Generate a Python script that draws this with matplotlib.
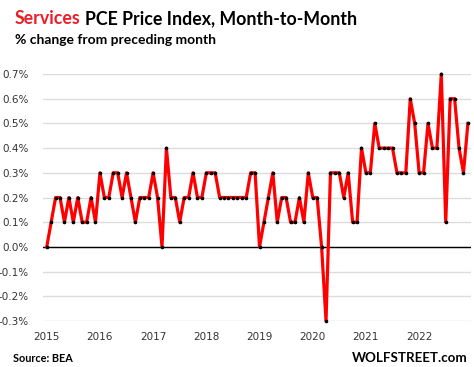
import matplotlib
matplotlib.use("Agg")
import matplotlib.pyplot as plt
import numpy as np

# Monthly services PCE price index, % change from preceding month (Jan 2015 - Dec 2022)
years = ["2015", "2016", "2017", "2018", "2019", "2020", "2021", "2022"]
pce_2015 = [0.0, 0.1, 0.2, 0.2, 0.1, 0.2, 0.1, 0.2, 0.1, 0.1, 0.2, 0.1]
pce_2016 = [0.3, 0.2, 0.2, 0.3, 0.3, 0.2, 0.3, 0.2, 0.1, 0.2, 0.2, 0.2]
pce_2017 = [0.3, 0.2, 0.0, 0.4, 0.2, 0.2, 0.1, 0.2, 0.2, 0.3, 0.2, 0.2]
pce_2018 = [0.3, 0.3, 0.3, 0.2, 0.2, 0.2, 0.2, 0.2, 0.2, 0.2, 0.3, 0.3]
pce_2019 = [0.0, 0.1, 0.2, 0.3, 0.1, 0.2, 0.2, 0.1, 0.1, 0.2, 0.1, 0.3]
pce_2020 = [0.2, 0.2, 0.0, -0.3, 0.3, 0.3, 0.3, 0.2, 0.3, 0.1, 0.1, 0.4]
pce_2021 = [0.3, 0.3, 0.5, 0.4, 0.4, 0.4, 0.4, 0.3, 0.3, 0.3, 0.6, 0.5]
pce_2022 = [0.3, 0.3, 0.5, 0.4, 0.4, 0.7, 0.1, 0.6, 0.6, 0.4, 0.3, 0.5]
y_ticks = [-0.3, -0.2, -0.1, 0.0, 0.1, 0.2, 0.3, 0.4, 0.5, 0.6, 0.7]

values = pce_2015 + pce_2016 + pce_2017 + pce_2018 + pce_2019 + pce_2020 + pce_2021 + pce_2022
months = np.arange(len(values))

fig = plt.figure(figsize=(4.74, 3.67), dpi=100)
ax = fig.add_axes([43 / 474, 1 - 321 / 367, (471 - 43) / 474, (321 - 74) / 367])

ax.set_ylim(-0.3, 0.7)
ax.set_xlim(-0.84, 95.7)
ax.set_yticks(y_ticks)
ax.set_yticklabels(["{:.1f}%".format(v) for v in y_ticks], fontsize=7.5, color="#333333")
ax.set_xticks(np.arange(0, len(values), 12))
ax.set_xticklabels(years, fontsize=7.5, color="#333333")
ax.tick_params(length=0, pad=10)
ax.tick_params(axis="x", pad=8)
ax.grid(axis="y", color="#dcdcdc", linewidth=1)
ax.set_axisbelow(True)
for s in ax.spines.values():
    s.set_visible(False)

ax.axhline(0, color="black", linewidth=1, zorder=2)
ax.plot(months, values, color="#ff0000", linewidth=2.3, zorder=3, clip_on=False)
ax.plot(months, values, linestyle="none", marker="o", markersize=1.6, color="black", zorder=4, clip_on=False)

# title with coloured first word
fig.canvas.draw()
renderer = fig.canvas.get_renderer()
t1 = fig.text(15 / 474, 1 - 24 / 367, "Services", color="#ee1c25", fontsize=12.8,
              fontweight="bold", family="Lato")
bb = t1.get_window_extent(renderer)
fig.text(bb.x1 / 474 + 4 / 474, 1 - 24 / 367, "PCE Price Index, Month-to-Month", color="black",
         fontsize=12.8, fontweight="bold", family="Lato")
fig.text(15 / 474, 1 - 44 / 367, "% change from preceding month", color="black", fontsize=10,
         fontweight="bold", family="Lato")

fig.text(13 / 474, 1 - 362 / 367, "Source: BEA", fontsize=7.8, fontweight="bold", family="Lato")
fig.text(468 / 474, 1 - 362 / 367, "WOLFSTREET.com", fontsize=9.6, fontweight="bold", family="Lato",
         ha="right")

fig.savefig("out.png", dpi=100)
